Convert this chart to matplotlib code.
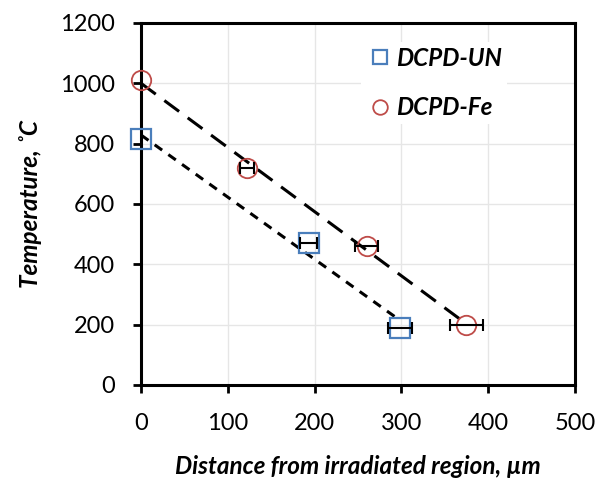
import numpy as np
import matplotlib.pyplot as plt

plt.rcParams['font.family'] = ['Lato', 'DejaVu Sans']

# DCPD-UN
x_un = [0, 193, 298]
y_un = [815, 470, 190]
xerr_un = [0, 10, 14]

# DCPD-Fe
x_fe = [0, 122, 260, 375]
y_fe = [1010, 720, 460, 200]
xerr_fe = [0, 8, 13, 19]

xticks = [0, 100, 200, 300, 400, 500]
yticks = [0, 200, 400, 600, 800, 1000, 1200]

fig = plt.figure(figsize=(5.97, 4.78), dpi=100)
ax = fig.add_axes([0.2362, 0.1946, 0.7269, 0.7573])

ax.set_xlim(0, 500)
ax.set_ylim(0, 1200)
ax.set_xticks(xticks)
ax.set_yticks(yticks)
ax.grid(True, color='#e6e6e6', lw=1, zorder=0)
ax.set_axisbelow(True)

# linear trendlines
p_fe = np.polyfit(x_fe, y_fe, 1)
xx = np.array([min(x_fe), max(x_fe)])
ax.plot(xx, np.polyval(p_fe, xx), color='black', lw=2.2, dashes=(6, 3.5), zorder=2)
p_un = np.polyfit(x_un, y_un, 1)
xx = np.array([min(x_un), max(x_un)])
ax.plot(xx, np.polyval(p_un, xx), color='black', lw=2.2, dashes=(3, 2.5), zorder=2)

ax.plot(x_un, y_un, 's', ms=14, mfc='none', mec='#4a7ebb', mew=1.6, zorder=3,
        label='DCPD-UN', clip_on=False)
ax.plot(x_fe, y_fe, 'o', ms=14, mfc='none', mec='#be4b48', mew=1.3, zorder=3,
        label='DCPD-Fe', clip_on=False)
ax.errorbar(x_un, y_un, xerr=xerr_un, fmt='none', ecolor='black', elinewidth=1.5,
            capsize=4, capthick=1.5, zorder=4)
ax.errorbar(x_fe, y_fe, xerr=xerr_fe, fmt='none', ecolor='black', elinewidth=1.5,
            capsize=4, capthick=1.5, zorder=4)

leg = ax.legend(loc='upper left', bbox_to_anchor=(0.478, 0.982), frameon=True,
                fancybox=False, edgecolor='none', framealpha=1, facecolor='white',
                handletextpad=0.05, labelspacing=1.1, handlelength=1.2,
                borderpad=0.2, markerscale=0.75,
                prop={'size': 17.5, 'weight': 'bold', 'style': 'italic'})

for s in ax.spines.values():
    s.set_linewidth(2.2)
ax.tick_params(axis='both', direction='out', length=6, width=2, labelsize=17,
               top=False, right=False)
ax.tick_params(axis='x', pad=14)
ax.tick_params(axis='y', pad=13)

ax.set_xlabel('Distance from irradiated region, µm', fontsize=17.5, fontweight='bold',
              fontstyle='italic', labelpad=15)
ax.set_ylabel('Temperature, ˚C', fontsize=17.5, fontweight='bold',
              fontstyle='italic', labelpad=13)

fig.savefig('out.png', dpi=100)
